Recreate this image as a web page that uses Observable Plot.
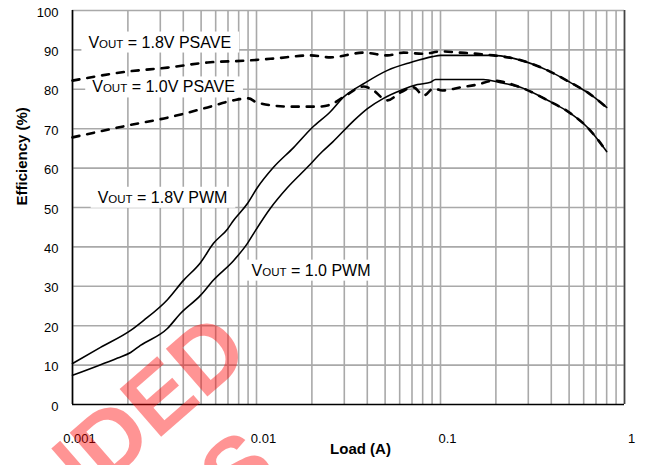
<!DOCTYPE html>
<html>
<head>
<meta charset="utf-8">
<script src="https://cdn.jsdelivr.net/npm/d3@7"></script>
<script src="https://cdn.jsdelivr.net/npm/@observablehq/plot@0.6"></script>
<style>
  html, body { margin: 0; padding: 0; background: #fff; overflow: hidden; }
  svg { display: block; }
</style>
</head>
<body>
<div id="chart"></div>
<script>
// ---- data ----
const pwm18Load = [0.001, 0.00142, 0.00207, 0.00243, 0.00328, 0.00401, 0.00496, 0.00584, 0.00695, 0.0075, 0.00893, 0.0101, 0.01237, 0.0159, 0.0201, 0.0252, 0.0297, 0.0391, 0.0515, 0.0687, 0.0905, 0.1, 0.194, 0.262, 0.382, 0.509, 0.63, 0.8];
const pwm18Eff  = [10.4, 14.5, 18.8, 21.3, 26.6, 31.5, 36, 40.9, 44.5, 46.7, 51, 55, 60.2, 65.2, 70.3, 74.3, 78, 81.7, 84.8, 86.8, 88.3, 88.6, 88.6, 87.6, 84.8, 81.7, 79.2, 75.4];

const pwm10Load = [0.001, 0.00176, 0.00207, 0.00234, 0.00328, 0.00386, 0.00496, 0.00584, 0.0075, 0.00893, 0.00989, 0.0119, 0.0147, 0.0189, 0.0228, 0.0259, 0.0337, 0.0401, 0.049, 0.0606, 0.075, 0.0883, 0.094, 0.171, 0.212, 0.272, 0.382, 0.509, 0.63, 0.8];
const pwm10Eff  = [7.4, 11.8, 13.2, 15.0, 19.3, 23.1, 27.7, 31.6, 36.5, 40.9, 44.2, 49.8, 55, 60.2, 64.2, 66.6, 72, 75.1, 77.7, 79.7, 81.2, 81.8, 82.5, 82.5, 81.7, 80.5, 77.2, 73.9, 70.3, 64.2];

const psave18Load = [0.001, 0.00199, 0.00328, 0.00542, 0.00893, 0.01237, 0.01965, 0.0252, 0.0382, 0.0515, 0.063, 0.0809, 0.1, 0.1284, 0.159, 0.194, 0.262, 0.382, 0.509, 0.63, 0.8];
const psave18Eff  = [82.2, 84.5, 85.5, 86.8, 87.3, 87.8, 88.6, 88.1, 89.3, 88.6, 89.3, 89.0, 89.6, 89.3, 89.0, 88.6, 87.6, 84.8, 81.7, 79.2, 75.4];

const psave10Load = [0.001, 0.00199, 0.00328, 0.00542, 0.0075, 0.00905, 0.0101, 0.0153, 0.0215, 0.0252, 0.0305, 0.0382, 0.0417, 0.0515, 0.0606, 0.0713, 0.0809, 0.0916, 0.1025, 0.1284, 0.159, 0.194, 0.272, 0.382, 0.509, 0.63, 0.8];
const psave10Eff  = [67.8, 70.8, 72.8, 75.4, 77.2, 77.7, 76.6, 75.6, 75.6, 76.1, 78.4, 80.7, 80.2, 77.2, 79.2, 80.5, 78.4, 80.2, 79.7, 80.5, 81.2, 82.2, 80.5, 77.2, 73.9, 70.3, 64.2];

const xTicks = [0.001, 0.01, 0.1, 1];
const xTickLabels = ["0.001", "0.01", "0.1", "1"];
const yTicks = [0, 10, 20, 30, 40, 50, 60, 70, 80, 90, 100];

const labelText = ["VOUT = 1.8V PSAVE", "VOUT = 1.0V PSAVE", "VOUT = 1.8V PWM", "VOUT = 1.0 PWM"];
const labelLoad = [0.00122, 0.00128, 0.00137, 0.0094];
const labelEff  = [91.9, 80.5, 52.5, 34.0];

const xTitle = "Load (A)";
const yTitle = "Efficiency (%)";
const watermarkLines = ["NOT RECOMMENDED", "FOR NEW DESIGNS"];

// ---- build tables ----
const toRows = (loads, effs) => loads.map((x, i) => ({x, y: effs[i]}));
const pwm18 = toRows(pwm18Load, pwm18Eff);
const pwm10 = toRows(pwm10Load, pwm10Eff);
const psave18 = toRows(psave18Load, psave18Eff);
const psave10 = toRows(psave10Load, psave10Eff);
const labels = labelText.map((t, i) => ({t, x: labelLoad[i], y: labelEff[i]}));

const gridX = [];
[0.001, 0.01, 0.1].forEach(d => { for (let k = 1; k <= 9; k++) gridX.push(+(d * k).toPrecision(3)); });
gridX.push(1);
const gridY = yTicks.filter(v => v > 0);

const FONT = "'Liberation Sans', Arial, Helvetica, sans-serif";

const svg = Plot.plot({
  width: 646,
  height: 465,
  marginLeft: 72,
  marginRight: 22,
  marginTop: 10,
  marginBottom: 61,
  style: {fontFamily: FONT, fontSize: "13px", color: "#000", background: "#fff"},
  x: {type: "log", domain: [0.001, 1], axis: null},
  y: {domain: [0, 100], axis: null},
  marks: [
    Plot.ruleX(gridX, {stroke: "#a9a9a9", strokeWidth: 1.6}),
    Plot.ruleY(gridY, {stroke: "#a9a9a9", strokeWidth: 1.6}),
    Plot.ruleX([1], {stroke: "#444", strokeWidth: 1.6}),
    Plot.ruleX([0.001], {stroke: "#000", strokeWidth: 1.6}),
    Plot.ruleY([0], {stroke: "#000", strokeWidth: 1.6}),
    Plot.line(pwm18, {x: "x", y: "y", stroke: "#000", strokeWidth: 1.6, curve: "monotone-x"}),
    Plot.line(pwm10, {x: "x", y: "y", stroke: "#000", strokeWidth: 1.6, curve: "monotone-x"}),
    Plot.line(psave18, {x: "x", y: "y", stroke: "#000", strokeWidth: 2.6, strokeDasharray: "7,8", curve: "monotone-x"}),
    Plot.line(psave10, {x: "x", y: "y", stroke: "#000", strokeWidth: 2.6, strokeDasharray: "7,8", curve: "monotone-x"}),
    Plot.axisY(yTicks, {tickSize: 0, tickPadding: 14, fontSize: 13, dy: 2, label: null}),
    Plot.axisX(xTicks, {tickSize: 0, tickPadding: 29, fontSize: 13, dx: 7, label: null,
      tickFormat: d => xTickLabels[xTicks.indexOf(d)]}),
    Plot.text([xTitle], {frameAnchor: "bottom", text: d => d, dx: 12, dy: 49, fontSize: 15, fontWeight: "bold"}),
    Plot.text([yTitle], {frameAnchor: "left", text: d => d, rotate: -90, dx: -50, dy: -2, fontSize: 15, fontWeight: "bold"}),
    Plot.text(labels, {x: "x", y: "y", text: "t", textAnchor: "start", lineAnchor: "middle", fontSize: 16, fill: "#000"})
  ]
});

document.getElementById("chart").appendChild(svg);

// subscript "OUT" and white boxes behind the curve labels
const sel = d3.select(svg);
const lineGroups = svg.querySelectorAll('g[aria-label="line"]');
const firstLine = lineGroups[0];
const boxG = document.createElementNS("http://www.w3.org/2000/svg", "g");
firstLine.parentNode.insertBefore(boxG, firstLine);
sel.selectAll("text").each(function() {
  const t = this.textContent;
  if (!t.startsWith("VOUT")) return;
  const el = d3.select(this);
  el.text(null);
  el.append("tspan").text("V");
  el.append("tspan").attr("font-size", 11.5).text("OUT");
  el.append("tspan").text(t.slice(4));
  const b = this.getBBox();
  const m = this.getCTM();
  d3.select(boxG).append("rect")
    .attr("x", b.x + m.e - 7).attr("y", b.y + m.f - 2)
    .attr("width", b.width + 15).attr("height", b.height + 4)
    .attr("fill", "#fff");
});

// watermark
const wm = sel.append("g")
  .attr("transform", "translate(253,357) rotate(-41)")
  .attr("fill", "red").attr("fill-opacity", 0.42)
  .attr("font-family", FONT).attr("font-weight", "bold").attr("font-size", 92);
wm.append("text").attr("text-anchor", "end").text(watermarkLines[0]);
wm.append("text").attr("text-anchor", "end").attr("x", -55).attr("y", 106).text(watermarkLines[1]);
</script>
</body>
</html>
